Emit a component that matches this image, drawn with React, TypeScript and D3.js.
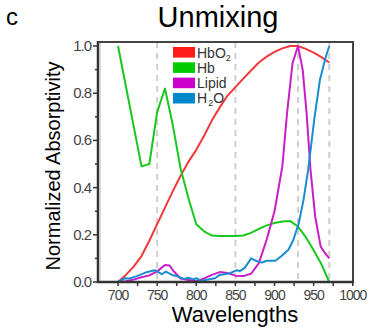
import React from "react";
import * as d3 from "d3";

const seriesNames = ["HbO₂", "Hb", "Lipid", "H₂O"];
const seriesColors = ["#f2383a", "#19c81e", "#c81ec8", "#1a8cd0"];
const legendColors = ["#ff1a1a", "#00cc00", "#cc00cc", "#0088cc"];

const hbo2: [number, number][] = [
  [700, 0], [710, 0.03], [720, 0.065], [730, 0.11], [740, 0.175], [750, 0.245],
  [760, 0.315], [770, 0.385], [780, 0.45], [790, 0.51], [800, 0.56], [810, 0.62],
  [820, 0.685], [830, 0.74], [840, 0.79], [850, 0.826], [860, 0.862], [870, 0.896],
  [880, 0.93], [890, 0.955], [900, 0.975], [910, 0.99], [920, 1.0], [930, 1.0],
  [940, 0.988], [950, 0.972], [960, 0.953], [970, 0.93],
];
const hb: [number, number][] = [
  [700, 1.0], [730, 0.49], [740, 0.5], [750, 0.72], [760, 0.82], [770, 0.665],
  [780, 0.48], [790, 0.355], [800, 0.245], [810, 0.215], [820, 0.197], [830, 0.195],
  [840, 0.195], [850, 0.195], [860, 0.197], [870, 0.208], [880, 0.225], [890, 0.24],
  [900, 0.25], [910, 0.256], [920, 0.258], [930, 0.235], [940, 0.19], [950, 0.135],
  [960, 0.075], [970, 0.0],
];
const lipid: [number, number][] = [
  [700, 0], [710, 0.003], [720, 0.01], [730, 0.02], [740, 0.028], [750, 0.045],
  [760, 0.072], [766, 0.07], [770, 0.05], [780, 0.015], [790, 0.008], [800, 0.003],
  [810, 0.015], [820, 0.03], [830, 0.042], [840, 0.038], [850, 0.027], [860, 0.025],
  [870, 0.035], [880, 0.08], [890, 0.18], [900, 0.3], [910, 0.49], [916, 0.715],
  [923, 0.927], [930, 1.0], [936, 0.9], [941, 0.715], [946, 0.475], [952, 0.277],
  [959, 0.15], [965, 0.12], [970, 0.1],
];
const h2o: [number, number][] = [
  [700, 0], [709, 0.016], [715, 0.015], [724, 0.025], [735, 0.04], [747, 0.05],
  [756, 0.033], [761, 0.044], [769, 0.03], [777, 0.023], [784, 0.013], [790, 0.018],
  [796, 0.011], [800, 0.016], [807, 0.004], [815, 0.011], [824, 0.016], [830, 0.03],
  [843, 0.037], [852, 0.05], [856, 0.047], [862, 0.06], [870, 0.1], [877, 0.089],
  [884, 0.082], [890, 0.09], [901, 0.09], [909, 0.11], [918, 0.138], [924, 0.178],
  [931, 0.249], [937, 0.347], [943, 0.475], [951, 0.694], [958, 0.856], [965, 0.948],
  [970, 1.0],
];
const allSeries = [hbo2, hb, lipid, h2o];

const dashedLines = [750, 850, 930, 970];
const xTicks = [700, 725, 750, 775, 800, 825, 850, 875, 900, 925, 950, 975, 1000];
const xTickLabels = [700, 750, 800, 850, 900, 950, 1000];
const yTicks = [0, 0.1, 0.2, 0.3, 0.4, 0.5, 0.6, 0.7, 0.8, 0.9, 1.0];
const yTickLabels = [0, 0.2, 0.4, 0.6, 0.8, 1.0];

const FONT = "'Liberation Sans', Arial, Helvetica, sans-serif";

export default function App() {
  const left = 98, right = 353, top = 42, bottom = 282;
  const x = d3.scaleLinear().domain([674.4, 1000.3]).range([left, right]);
  const y = d3.scaleLinear().domain([0, 1.017]).range([bottom, top]);
  const line = d3.line<[number, number]>().x(d => x(d[0])).y(d => y(d[1]));

  return (
    <svg width={370} height={328} style={{ position: "absolute", left: 0, top: 0 }} fontFamily={FONT}>
      <rect x={0} y={0} width={370} height={328} fill="#fff" />
      <text x={6} y={25} fontSize={24} fill="#000">c</text>
      <text x={218} y={27} fontSize={29} textAnchor="middle" fill="#000">Unmixing</text>

      {/* dashed guides */}
      {dashedLines.map(d => (
        <line key={d} x1={x(d)} x2={x(d)} y1={top} y2={bottom} stroke="#cfcfcf" strokeWidth={2} strokeDasharray="6,5" />
      ))}

      {/* frame */}
      <line x1={left + 2.5} x2={left + 2.5} y1={top} y2={bottom} stroke="#d8d8d8" strokeWidth={1} />
      <line x1={left} x2={right} y1={top} y2={top} stroke="#444" strokeWidth={2} />
      <line x1={right} x2={right} y1={top - 1} y2={bottom} stroke="#444" strokeWidth={2} />

      {/* curves */}
      {allSeries.map((s, i) => (
        <path key={i} d={line(s) || ""} fill="none" stroke={seriesColors[i]} strokeWidth={2} strokeLinejoin="round" />
      ))}

      {/* axes */}
      <line x1={left} x2={left} y1={top - 1} y2={bottom + 1} stroke="#333" strokeWidth={2.5} />
      <line x1={left - 1} x2={right + 1} y1={bottom} y2={bottom} stroke="#333" strokeWidth={2.5} />
      {yTicks.map((t, i) => (
        <line key={"yt" + i} x1={left - (i % 2 === 0 ? 5 : 3)} x2={left} y1={y(t)} y2={y(t)} stroke="#333" strokeWidth={1.5} />
      ))}
      {yTickLabels.map(t => (
        <text key={"yl" + t} x={91} y={y(t) + 5} fontSize={15} textAnchor="end" fill="#444" letterSpacing={-1}>
          {t.toFixed(1)}
        </text>
      ))}
      {xTicks.map(t => (
        <line key={"xt" + t} x1={x(t)} x2={x(t)} y1={bottom} y2={bottom + 4} stroke="#333" strokeWidth={1.5} />
      ))}
      {xTickLabels.map(t => (
        <text key={"xl" + t} x={x(t)} y={300} fontSize={14} textAnchor="middle" fill="#444" letterSpacing={-1}>
          {t}
        </text>
      ))}

      <text x={235} y={322} fontSize={22} textAnchor="middle" fill="#000">Wavelengths</text>
      <text transform="translate(60,166) rotate(-90)" fontSize={20} textAnchor="middle" fill="#000">
        Normalized Absorptivity
      </text>

      {/* legend */}
      {seriesNames.map((n, i) => (
        <g key={n} transform={`translate(173,${47 + i * 15.3})`}>
          <rect x={0} y={0} width={22} height={10.6} fill={legendColors[i]} />
          {i === 0 && (
            <text x={24} y={10.5} fontSize={14} fill="#333">
              HbO<tspan fontSize={9} dy={3}>2</tspan>
            </text>
          )}
          {i === 1 && <text x={24} y={10.5} fontSize={14} fill="#333">Hb</text>}
          {i === 2 && <text x={24} y={10.5} fontSize={14} fill="#333">Lipid</text>}
          {i === 3 && (
            <text x={24} y={10.5} fontSize={14} fill="#333">
              H<tspan fontSize={9} dx={1} dy={3}>2</tspan><tspan dy={-3}>O</tspan>
            </text>
          )}
        </g>
      ))}
    </svg>
  );
}
